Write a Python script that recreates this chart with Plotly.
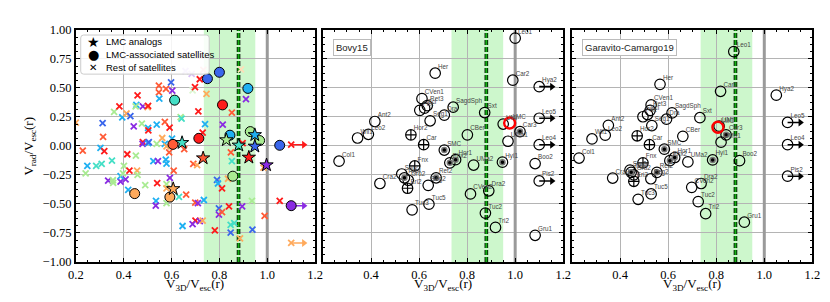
import plotly.graph_objects as go

# ---------------------------------------------------------------- data
# panel 1 : host index -> colour is decided below (style)
rest_x = [0.200, 0.229, 0.312, 0.314, 0.303, 0.319, 0.360, 0.382, 0.394, 0.412, 0.428, 0.442, 0.458, 0.453,
          0.450, 0.480, 0.500, 0.502, 0.476, 0.502, 0.503, 0.480, 0.479, 0.502, 0.505, 0.538, 0.538, 0.547,
          0.547, 0.549, 0.561, 0.572, 0.592, 0.577, 0.598, 0.603, 0.602, 0.572, 0.579, 0.590, 0.638, 0.642,
          0.653, 0.698, 0.718, 0.712, 0.746, 0.740, 0.730, 0.814, 0.852, 0.848, 0.911, 0.897, 0.415, 0.451,
          0.248, 0.285, 0.308, 0.351, 0.401, 0.424, 0.456, 0.458, 0.241, 0.335, 0.355, 0.356, 0.387, 0.408,
          0.387, 0.397, 0.419, 0.490, 0.540, 0.524, 0.543, 0.576, 0.579, 0.609, 0.593, 0.579, 0.579, 0.631,
          0.579, 0.535, 0.534, 0.646, 0.661, 0.699, 0.710, 0.700, 0.691, 0.707, 0.735, 0.718, 0.730, 0.688,
          0.790, 0.794, 0.811, 0.798, 0.798, 0.811, 0.781, 0.840, 0.852, 0.847, 0.862, 0.847, 0.836, 0.895,
          0.886, 0.936, 0.938, 0.984, 1.052, 0.989, 1.100, 1.100]
rest_y = [0.200, -0.040, 0.197, 0.078, -0.017, -0.045, 0.292, 0.341, 0.246, 0.279, 0.257, 0.169, 0.435, 0.353,
          0.340, 0.341, 0.333, 0.345, 0.191, 0.156, 0.133, 0.032, 0.018, 0.024, 0.032, 0.183, 0.018, 0.520,
          0.460, 0.407, 0.068, 0.207, 0.158, 0.492, 0.547, 0.476, 0.062, 0.018, -0.004, -0.055, 0.248, 0.235,
          -0.028, 0.506, 0.574, 0.298, 0.448, 0.188, 0.115, 0.183, 0.287, -0.055, 0.402, 0.024, -0.072, -0.083,
          -0.173, -0.173, -0.154, -0.127, -0.173, -0.214, -0.214, -0.250, -0.236, -0.300, -0.296, -0.318, -0.307, -0.288,
          -0.261, -0.236, -0.378, -0.337, -0.321, -0.132, -0.132, -0.119, -0.152, -0.214, -0.275, -0.329, -0.365, -0.439,
          -0.493, -0.474, -0.515, -0.690, -0.419, -0.488, -0.493, -0.644, -0.154, -0.165, -0.466, -0.647, -0.644, -0.674,
          -0.292, -0.324, -0.365, -0.538, -0.592, -0.570, -0.727, -0.521, -0.132, -0.680, -0.665, -0.748, -0.283, -0.521,
          -0.797, -0.474, -0.721, -0.187, -0.474, -0.603, 0.010, -0.836]
rest_host = [2, 1, 6, 1, 5, 0, 3, 0, 5, 2, 6, 7, 0, 5,
             3, 7, 2, 0, 3, 5, 0, 0, 7, 5, 6, 5, 3, 1,
             1, 5, 2, 1, 0, 1, 6, 7, 5, 5, 2, 1, 3, 4,
             1, 0, 0, 0, 2, 5, 0, 7, 1, 1, 7, 0, 0, 3,
             5, 4, 4, 4, 3, 0, 2, 3, 3, 7, 3, 3, 7, 7,
             5, 3, 5, 3, 0, 5, 7, 5, 5, 1, 7, 3, 2, 4,
             3, 5, 7, 5, 1, 1, 7, 0, 1, 2, 5, 7, 2, 7,
             6, 5, 0, 6, 7, 1, 0, 0, 4, 4, 4, 6, 2, 7,
             2, 3, 6, 2, 0, 1, 0, 2]

faded_x = [0.658, 0.684, 0.688, 0.733, 0.890]
faded_y = [0.645, 0.620, 0.478, 0.654, 0.660]
faded_host = [7, 7, 3, 0, 2]

lmcsat_x = [0.613, 0.750, 0.800, 0.813, 0.919, 0.714, 0.606, 0.844, 0.929, 0.968, 1.052, 0.446, 0.593, 0.856, 1.100]
lmcsat_y = [0.394, 0.579, 0.634, 0.353, 0.495, 0.065, 0.013, 0.092, 0.123, 0.046, 0.005, -0.411, -0.441, -0.261, -0.515]
lmcsat_host = [4, 6, 6, 0, 5, 0, 1, 5, 3, 3, 6, 2, 2, 3, 7]

analog_x = [0.644, 0.829, 0.881, 0.948, 0.948, 0.732, 0.923, 0.607, 0.997]
analog_y = [0.027, 0.051, 0.005, 0.095, -0.004, -0.105, -0.099, -0.370, -0.165]
analog_host = [4, 3, 4, 5, 6, 1, 0, 2, 7]

# panel 2 : Bovy15
b15_names = ["Leo1", "Car2", "Her", "CVen1", "Ret3", "Scl", "Phx", "SagdSph", "Dra", "Seg1", "Sxt", "UMi",
             "LMC", "Car3", "UMa1", "Ant2", "Leo2", "Wil1", "Hor2", "Car", "SMC", "CBer", "Hya2", "Leo5",
             "Leo4", "Col1", "Fnx", "Hor1", "Phx2", "UMa2", "Hyi1", "Boo2", "Pis2", "Sgr2", "Tuc4", "Gru2",
             "Eri2", "Cra2", "Seg2", "Ret2", "CVen2", "Dra2", "Tuc5", "Tuc3", "Tuc2", "Tri2", "Gru1"]
b15_x = [1.000, 0.990, 0.667, 0.612, 0.634, 0.623, 0.603, 0.742, 0.705, 0.646, 0.873, 0.950,
         0.977, 1.020, 0.970, 0.416, 0.389, 0.344, 0.566, 0.619, 0.705, 0.801, 1.100, 1.100,
         1.100, 0.267, 0.582, 0.752, 0.728, 0.827, 0.947, 1.083, 1.100, 0.528, 0.539, 0.555,
         0.552, 0.437, 0.638, 0.671, 0.814, 0.890, 0.641, 0.571, 0.876, 0.918, 1.083]
b15_y = [0.928, 0.566, 0.626, 0.407, 0.347, 0.325, 0.306, 0.333, 0.265, 0.216, 0.287, 0.188,
         0.197, 0.123, 0.040, 0.210, 0.100, 0.068, 0.095, 0.010, -0.036, 0.095, 0.510, 0.238,
         0.010, -0.132, -0.173, -0.119, -0.146, -0.165, -0.140, -0.152, -0.302, -0.242, -0.275, -0.296,
         -0.365, -0.324, -0.340, -0.275, -0.414, -0.387, -0.502, -0.551, -0.579, -0.702, -0.770]

# panel 3 : Garavito-Camargo19 (same satellites, same order)
gc19_x = [0.873, 0.818, 0.566, 0.529, 0.525, 0.514, 0.495, 0.616, 0.593, 0.532, 0.732, 0.812,
          0.807, 0.841, 0.820, 0.351, 0.338, 0.283, 0.471, 0.522, 0.584, 0.661, 1.050, 1.097,
          1.097, 0.229, 0.495, 0.627, 0.607, 0.682, 0.785, 0.897, 1.097, 0.441, 0.446, 0.457,
          0.457, 0.369, 0.528, 0.553, 0.698, 0.737, 0.529, 0.475, 0.725, 0.756, 0.917]
gc19_y = [0.812, 0.470, 0.530, 0.353, 0.306, 0.270, 0.251, 0.284, 0.230, 0.175, 0.243, 0.170,
          0.161, 0.095, 0.032, 0.177, 0.092, 0.060, 0.087, 0.010, -0.028, 0.082, 0.437, 0.202,
          0.010, -0.105, -0.146, -0.100, -0.127, -0.138, -0.121, -0.127, -0.261, -0.209, -0.228, -0.250,
          -0.305, -0.277, -0.283, -0.228, -0.357, -0.324, -0.414, -0.460, -0.480, -0.584, -0.657]

# satellite marker kind: o = open, b = filled centre, p = crossed, L = LMC
sat_kind = ["o", "o", "o", "o", "o", "o", "o", "o", "o", "o", "o", "o",
            "L", "b", "o", "o", "o", "o", "p", "p", "b", "o", "o", "o",
            "o", "o", "p", "b", "b", "o", "b", "o", "o", "o", "b", "o",
            "p", "o", "o", "b", "o", "o", "o", "o", "o", "o", "o"]

x_ticks_first = [0.2, 0.4, 0.6, 0.8, 1.0, 1.2]
x_ticks_other = [0.4, 0.6, 0.8, 1.0, 1.2]
y_ticks = [-1.0, -0.75, -0.5, -0.25, 0.0, 0.25, 0.5, 0.75, 1.0]
band_lo, band_hi = 0.735, 0.95
ratio_line = 0.88
unity = 1.0
arrow_limit = 1.09
arrow_len = 0.065

# ---------------------------------------------------------------- style
W, H = 830, 302
HOST_COLORS = ["#ff1a1a", "#ff5a36", "#ffaa5c", "#a9eb92", "#44dfc6",
               "#1fb0f2", "#3a66ec", "#8a2be2"]
FADED_COLORS = ["#ffb3b3", "#ffc0b0", "#ffddb8", "#dcf7d2", "#c5f5ec",
                "#bfe6fb", "#c3d0fa", "#d8bff5"]
SERIF = "Liberation Serif"
SANS = "Liberation Sans"

px_left = [61, 313, 567]
px_right = [305, 558, 812]
y_top, y_bot = 15.5, 259

fig = go.Figure()

def ax(i):
    return ("x" if i == 0 else f"x{i+1}"), ("y" if i == 0 else f"y{i+1}")

layout = dict(width=W, height=H, margin=dict(l=0, r=0, t=0, b=0),
              paper_bgcolor="white", plot_bgcolor="white", showlegend=False,
              font=dict(family=SERIF, size=12, color="black"))
for i in range(3):
    xk = "xaxis" if i == 0 else f"xaxis{i+1}"
    yk = "yaxis" if i == 0 else f"yaxis{i+1}"
    xa, ya = ax(i)
    layout[xk] = dict(domain=[px_left[i] / W, px_right[i] / W], range=[0.2, 1.2], anchor=ya,
                      tickvals=x_ticks_first if i == 0 else x_ticks_other,
                      ticktext=[f"{v:.1f}" for v in (x_ticks_first if i == 0 else x_ticks_other)],
                      ticks="inside", ticklen=4.5, tickwidth=1, tickcolor="black",
                      showline=True, linecolor="black", linewidth=1.6, mirror="ticks",
                      showgrid=True, gridcolor="#b4b4b4", gridwidth=1, zeroline=False,
                      minor=dict(dtick=0.05, tick0=0.2, ticks="inside", ticklen=2.5, tickcolor="black", showgrid=False),
                      tickfont=dict(family=SERIF, size=12.5))
    layout[yk] = dict(domain=[(H - y_bot) / H, (H - y_top) / H], range=[-1, 1], anchor=xa,
                      tickvals=y_ticks, ticktext=[f"{v:.2f}".replace("-", "\u2212") for v in y_ticks],
                      showticklabels=(i == 0),
                      ticks="inside", ticklen=4.5, tickwidth=1, tickcolor="black",
                      showline=True, linecolor="black", linewidth=1.6, mirror="ticks",
                      showgrid=True, gridcolor="#b4b4b4", gridwidth=1, zeroline=False,
                      minor=dict(dtick=0.0625, tick0=0, ticks="inside", ticklen=2.5, tickcolor="black", showgrid=False),
                      tickfont=dict(family=SERIF, size=12.5))
fig.update_layout(**layout)

shapes = []
annotations = []
for i in range(3):
    xa, ya = ax(i)
    shapes.append(dict(type="rect", xref=xa, yref=ya, x0=band_lo, x1=band_hi, y0=-1, y1=1,
                       fillcolor="#cdf7cc", line=dict(width=0), layer="below"))
    shapes.append(dict(type="line", xref=xa, yref=ya, x0=unity, x1=unity, y0=-1, y1=1,
                       line=dict(color="#9a9a9a", width=3), layer="between"))
    shapes.append(dict(type="line", xref=xa, yref=ya, x0=ratio_line, x1=ratio_line, y0=-1, y1=1,
                       line=dict(color="black", width=3.6, dash="5px,2px"), layer="between"))
    shapes.append(dict(type="line", xref=xa, yref=ya, x0=ratio_line, x1=ratio_line, y0=-1, y1=1,
                       line=dict(color="#14b014", width=2, dash="5px,2px"), layer="between"))


def arrows(xs, ys, cols, xa, ya):
    """Out-of-range objects: a short line plus a triangular head, pointing right."""
    for x, y, c in zip(xs, ys, cols):
        if x >= arrow_limit:
            fig.add_trace(go.Scatter(x=[x, x + arrow_len - 0.01], y=[y, y], mode="lines", xaxis=xa, yaxis=ya,
                                     line=dict(color=c, width=1.6), hoverinfo="skip"))
            fig.add_trace(go.Scatter(x=[x + arrow_len - 0.012], y=[y], mode="markers", xaxis=xa, yaxis=ya,
                                     marker=dict(symbol="triangle-right", size=7, color=c, line=dict(width=0)),
                                     hoverinfo="skip"))


# ---- panel 1
xa, ya = ax(0)
arrows(rest_x, rest_y, [HOST_COLORS[h] for h in rest_host], xa, ya)
arrows(lmcsat_x, lmcsat_y, [HOST_COLORS[h] for h in lmcsat_host], xa, ya)
fig.add_trace(go.Scatter(x=faded_x, y=faded_y, mode="markers", xaxis=xa, yaxis=ya,
                         marker=dict(symbol="x-thin", size=6,
                                     line=dict(width=1.8, color=[FADED_COLORS[h] for h in faded_host]))))
fig.add_trace(go.Scatter(x=rest_x, y=rest_y, mode="markers", xaxis=xa, yaxis=ya,
                         marker=dict(symbol="x-thin", size=6,
                                     line=dict(width=1.8, color=[HOST_COLORS[h] for h in rest_host]))))
fig.add_trace(go.Scatter(x=lmcsat_x, y=lmcsat_y, mode="markers", xaxis=xa, yaxis=ya,
                         marker=dict(symbol="circle", size=10, color=[HOST_COLORS[h] for h in lmcsat_host],
                                     line=dict(width=1, color="black"))))
fig.add_trace(go.Scatter(x=analog_x, y=analog_y, mode="markers", xaxis=xa, yaxis=ya,
                         marker=dict(symbol="star", size=10, color=[HOST_COLORS[h] for h in analog_host],
                                     line=dict(width=1, color="black"))))

# ---- panels 2, 3
for i, (sx, sy) in enumerate([(b15_x, b15_y), (gc19_x, gc19_y)], start=1):
    xa, ya = ax(i)
    arrows(sx, sy, ["black"] * len(sx), xa, ya)

    def sel(kinds):
        idx = [k for k, kd in enumerate(sat_kind) if kd in kinds]
        return [sx[k] for k in idx], [sy[k] for k in idx]
    ox, oy = sel("ob")
    fig.add_trace(go.Scatter(x=ox, y=oy, mode="markers", xaxis=xa, yaxis=ya,
                             marker=dict(symbol="circle-open", size=10.5, color="black", line=dict(width=1.2))))
    bx, by = sel("b")
    fig.add_trace(go.Scatter(x=bx, y=by, mode="markers", xaxis=xa, yaxis=ya,
                             marker=dict(symbol="circle", size=5, color="black", line=dict(width=1.5, color="#777"))))
    px_, py_ = sel("p")
    fig.add_trace(go.Scatter(x=px_, y=py_, mode="markers", xaxis=xa, yaxis=ya,
                             marker=dict(symbol="circle-cross-open", size=10.5, color="black", line=dict(width=1.2))))
    lx, ly = sel("L")
    fig.add_trace(go.Scatter(x=lx, y=ly, mode="markers", xaxis=xa, yaxis=ya,
                             marker=dict(symbol="circle-open", size=11, color="red", line=dict(width=2.4))))
    fig.add_trace(go.Scatter(x=sx, y=sy, mode="markers+text", xaxis=xa, yaxis=ya, text=b15_names,
                             textposition="top right", textfont=dict(family=SANS, size=6.3, color="#444"),
                             marker=dict(size=3, color="rgba(0,0,0,0)")))

# ---- legend (panel 1)
def pxx(v):
    return v / W
def pxy(v):
    return 1 - v / H
lx0, lx1, ly0, ly1, r = 66, 197, 21, 62, 3
path = (f"M {pxx(lx0 + r)},{pxy(ly0)} L {pxx(lx1 - r)},{pxy(ly0)} Q {pxx(lx1)},{pxy(ly0)} {pxx(lx1)},{pxy(ly0 + r)} "
        f"L {pxx(lx1)},{pxy(ly1 - r)} Q {pxx(lx1)},{pxy(ly1)} {pxx(lx1 - r)},{pxy(ly1)} "
        f"L {pxx(lx0 + r)},{pxy(ly1)} Q {pxx(lx0)},{pxy(ly1)} {pxx(lx0)},{pxy(ly1 - r)} "
        f"L {pxx(lx0)},{pxy(ly0 + r)} Q {pxx(lx0)},{pxy(ly0)} {pxx(lx0 + r)},{pxy(ly0)} Z")
shapes.append(dict(type="path", xref="paper", yref="paper", path=path,
                   fillcolor="rgba(255,255,255,0.85)", line=dict(color="#cccccc", width=1), layer="above"))
legend_items = [("\u2605", "LMC analogs", 14), ("\u25cf", "LMC-associated satellites", 13), ("\u2715", "Rest of satellites", 10)]
for k, (sym, lab, fs) in enumerate(legend_items):
    yc = 28 + 13.3 * k
    annotations.append(dict(x=pxx(79), y=pxy(yc), xref="paper", yref="paper", text=sym, showarrow=False,
                            font=dict(family="DejaVu Sans", size=fs, color="black"), xanchor="center", yanchor="middle"))
    annotations.append(dict(x=pxx(90), y=pxy(yc), xref="paper", yref="paper", text=lab, showarrow=False,
                            font=dict(family=SANS, size=9.5, color="black"), xanchor="left", yanchor="middle"))

# ---- panel tags
for txt, x0 in [("Bovy15", 323), ("Garavito-Camargo19", 577)]:
    annotations.append(dict(x=pxx(x0), y=pxy(25), xref="paper", yref="paper", text=txt, showarrow=False,
                            xanchor="left", yanchor="top", font=dict(family=SANS, size=9.5, color="#222"),
                            bgcolor="white", bordercolor="#bbbbbb", borderwidth=1, borderpad=2))

# ---- axis titles
for i in range(3):
    annotations.append(dict(x=pxx((px_left[i] + px_right[i]) / 2), y=pxy(283), xref="paper", yref="paper",
                            text="V<sub>3D</sub>/V<sub>esc</sub>(r)", showarrow=False,
                            font=dict(family=SERIF, size=13), xanchor="center", yanchor="middle"))
annotations.append(dict(x=pxx(14), y=pxy((y_top + y_bot) / 2), xref="paper", yref="paper",
                        text="V<sub>rad</sub>/V<sub>esc</sub>(r)", showarrow=False, textangle=-90,
                        font=dict(family=SERIF, size=13), xanchor="center", yanchor="middle"))

fig.update_layout(shapes=shapes, annotations=annotations)
fig.write_html("out.html")
